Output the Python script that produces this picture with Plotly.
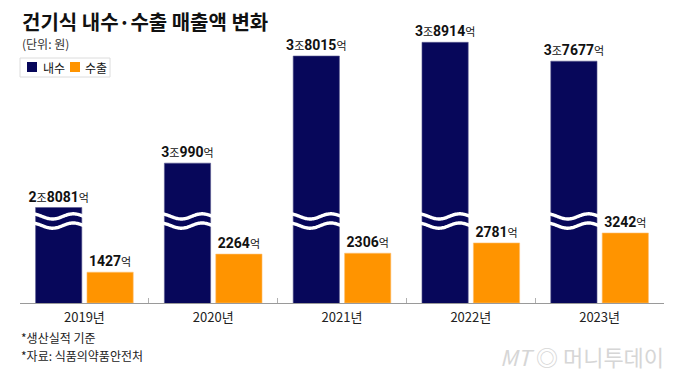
import numpy as np
import plotly.graph_objects as go

# ---- data (unit: 억원) ----
years = ["2019년", "2020년", "2021년", "2022년", "2023년"]
domestic = [28081, 30990, 38015, 38914, 37677]   # 내수
export = [1427, 2264, 2306, 2781, 3242]          # 수출
series_names = ["내수", "수출"]

NAVY = "#07075a"
ORANGE = "#ff9400"
FONT = "Noto Sans CJK KR"
NUMFONT = "Roboto, Noto Sans CJK KR"

W, H = 680, 384
ML, MR, MT, MB = 20, 16, 0, 81
PW, PH = W - ML - MR, H - MT - MB

# axis scales (broken axis for 내수)
Y_MAX = 14028            # export axis top
Y2_MIN, Y2_MAX = 21819, 41688  # domestic axis (broken) range


def label(v):
    jo, rest = divmod(v, 10000)
    small = "<span style='font-size:11px;font-weight:normal'>{}</span>"
    s = ""
    if jo:
        s += "<b>%d</b>" % jo + small.format("조")
    s += "<b>%d</b>" % rest + small.format("억")
    return s


def px(x):
    return (x - ML) / PW


def py(y):
    return (H - MB - y) / PH


BW = 0.359
OFF_D = -0.379
OFF_E = 0.020

fig = go.Figure()
fig.add_trace(go.Bar(
    x=years, y=domestic, name=series_names[0], yaxis="y2",
    marker=dict(color=NAVY, line=dict(color="#5a5a90", width=0.6)),
    width=BW, offset=OFF_D,
    text=[label(v) for v in domestic], textposition="outside",
    constraintext="none",
    textfont=dict(family=NUMFONT, size=14, color="#111"),
    cliponaxis=False, hoverinfo="skip", showlegend=False,
))
fig.add_trace(go.Bar(
    x=years, y=export, name=series_names[1],
    marker=dict(color=ORANGE, line=dict(color="#ffc070", width=0.6)),
    width=BW, offset=OFF_E,
    text=[label(v) for v in export], textposition="outside",
    constraintext="none",
    textfont=dict(family=NUMFONT, size=14, color="#111"),
    cliponaxis=False, hoverinfo="skip", showlegend=False,
))

# break marks (white waves) on the domestic bars
unit = Y_MAX / PH        # data units per pixel on export axis
BREAK_Y = 82 * unit
t = np.linspace(0, 1, 60)
ext = 4 / PW * 5         # 4px in category units
for i in range(len(years)):
    left = i + OFF_D - ext
    span = BW + 2 * ext
    xs = left + t * span
    for d in (4.6, -4.6):
        ys = BREAK_Y + d * unit + 2.6 * unit * np.cos(2 * np.pi * 1.3 * t)
        fig.add_trace(go.Scatter(
            x=xs, y=ys, xaxis="x2", yaxis="y", mode="lines",
            line=dict(color="white", width=3.4, shape="spline"),
            showlegend=False, hoverinfo="skip",
        ))

fig.update_layout(
    width=W, height=H,
    margin=dict(l=ML, r=MR, t=MT, b=MB),
    paper_bgcolor="white", plot_bgcolor="white",
    barmode="group",
    showlegend=False,
    xaxis=dict(
        type="category", range=[-0.5, 4.5], showgrid=False,
        showline=True, linecolor="#9a9a9a", linewidth=1,
        ticks="inside", tickson="boundaries", ticklen=5, tickcolor="#b0b0b0",
        tickfont=dict(family=FONT, size=13, color="#222"),
        ticklabelstandoff=2,
        fixedrange=True,
    ),
    xaxis2=dict(overlaying="x", range=[-0.5, 4.5], visible=False, anchor="y",
                fixedrange=True),
    yaxis=dict(range=[0, Y_MAX], visible=False, fixedrange=True),
    yaxis2=dict(range=[Y2_MIN, Y2_MAX], overlaying="y", visible=False,
                fixedrange=True),
)

# legend (drawn manually, compact like the reference)
fig.add_shape(type="rect", xref="paper", yref="paper",
              x0=px(20), x1=px(110), y0=py(58), y1=py(77),
              line=dict(color="#dcdcdc", width=1), fillcolor="white")
for (sx, tx), name, col in zip([(27, 42), (70, 84)], series_names, [NAVY, ORANGE]):
    fig.add_shape(type="rect", xref="paper", yref="paper",
                  x0=px(sx), x1=px(sx + 10), y0=py(62), y1=py(72),
                  line=dict(width=0), fillcolor=col)
    fig.add_annotation(xref="paper", yref="paper", x=px(tx - 1), y=py(67),
                       xanchor="left", yanchor="middle", showarrow=False,
                       text=name, font=dict(family=FONT, size=12, color="#111"))

annos = [
    dict(text="<b>건기식 내수·수출 매출액 변화</b>", x=px(20), y=py(22),
         font=dict(family=FONT, size=20, color="#111")),
    dict(text="(단위: 원)", x=px(20), y=py(43),
         font=dict(family=FONT, size=12, color="#333")),
    dict(text="*생산실적 기준", x=px(19), y=py(337),
         font=dict(family=FONT, size=12, color="#222")),
    dict(text="*자료: 식품의약품안전처", x=px(19), y=py(355),
         font=dict(family=FONT, size=12, color="#222")),
    dict(text="<i>MT</i> ◎ 머니투데이", x=px(666), y=py(356), xanchor="right",
         font=dict(family=FONT, size=22, color="#d6d6d6")),
]
for a in annos:
    a.setdefault("xanchor", "left")
    fig.add_annotation(xref="paper", yref="paper", yanchor="middle",
                       showarrow=False, **a)

fig.write_html("out.html", config={"displayModeBar": False},
               post_script="document.body.style.margin='0';")
